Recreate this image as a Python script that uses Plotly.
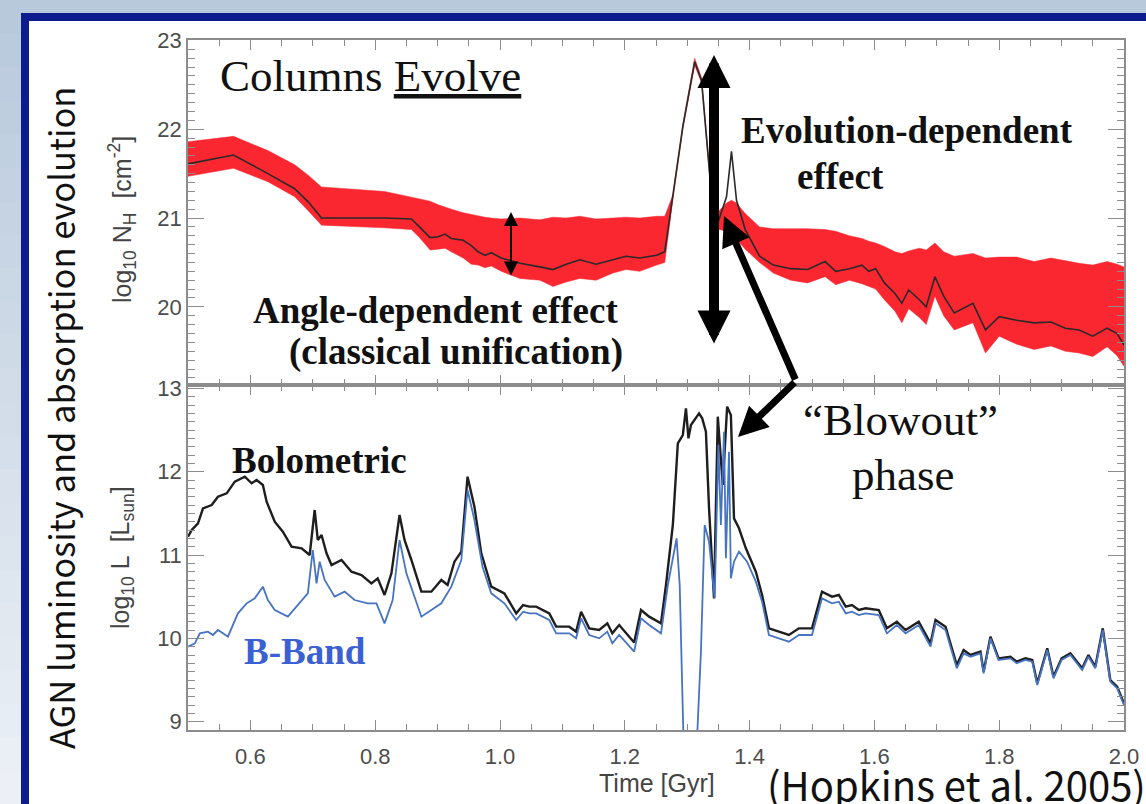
import plotly.graph_objects as go
from plotly.subplots import make_subplots

# ---------------- data ----------------
# Top panel: column density, median line and angle spread (band)
t_nh = [0.500, 0.573, 0.628, 0.671, 0.693, 0.714, 0.815, 0.858, 0.871, 0.888,
        0.901, 0.912, 0.922, 0.941, 0.954, 0.965, 0.976, 0.986, 1.002, 1.032,
        1.064, 1.085, 1.106, 1.128, 1.154, 1.181, 1.202, 1.224, 1.251, 1.264,
        1.277, 1.293, 1.312, 1.323, 1.336, 1.347, 1.363, 1.371, 1.379, 1.393,
        1.416, 1.438, 1.466, 1.493, 1.521, 1.538, 1.560, 1.580, 1.591, 1.602,
        1.616, 1.633, 1.644, 1.655, 1.672, 1.683, 1.697, 1.711, 1.728, 1.758,
        1.778, 1.800, 1.828, 1.856, 1.883, 1.906, 1.928, 1.950, 1.973, 1.989,
        2.000]
nh_med = [21.61, 21.71, 21.50, 21.33, 21.18, 21.00, 21.00, 20.99, 20.90, 20.78,
          20.79, 20.82, 20.77, 20.75, 20.69, 20.62, 20.58, 20.61, 20.55, 20.49,
          20.45, 20.42, 20.48, 20.53, 20.48, 20.53, 20.57, 20.55, 20.58, 20.62,
          21.24, 22.03, 22.76, 22.55, 21.50, 20.90, 21.24, 21.75, 21.20, 20.87,
          20.57, 20.47, 20.43, 20.42, 20.51, 20.40, 20.43, 20.47, 20.40, 20.43,
          20.27, 20.15, 20.04, 20.19, 20.08, 20.00, 20.34, 20.12, 19.93, 20.04,
          19.74, 19.89, 19.85, 19.82, 19.83, 19.76, 19.74, 19.67, 19.76, 19.70,
          19.57]
nh_hi = [21.86, 21.92, 21.76, 21.60, 21.48, 21.35, 21.30, 21.24, 21.22, 21.19,
         21.15, 21.12, 21.10, 21.06, 21.04, 21.02, 21.01, 21.00, 20.99, 21.00,
         20.98, 21.01, 21.00, 21.02, 20.99, 21.00, 21.01, 21.00, 21.02, 21.02,
         21.26, 22.06, 22.80, 22.58, 21.55, 21.05, 21.17, 21.20, 21.17, 21.05,
         20.90, 20.88, 20.88, 20.88, 20.87, 20.85, 20.80, 20.77, 20.74, 20.72,
         20.68, 20.62, 20.60, 20.63, 20.66, 20.64, 20.72, 20.62, 20.57, 20.60,
         20.55, 20.56, 20.56, 20.51, 20.55, 20.52, 20.49, 20.47, 20.51, 20.48,
         20.45]
nh_lo = [21.47, 21.56, 21.41, 21.24, 21.08, 20.92, 20.89, 20.87, 20.78, 20.64,
         20.65, 20.66, 20.62, 20.55, 20.48, 20.47, 20.44, 20.46, 20.40, 20.32,
         20.30, 20.23, 20.28, 20.32, 20.30, 20.38, 20.42, 20.40, 20.47, 20.50,
         21.20, 22.00, 22.72, 22.52, 21.45, 20.88, 20.85, 20.80, 20.76, 20.65,
         20.50, 20.38, 20.30, 20.27, 20.34, 20.25, 20.30, 20.26, 20.23, 20.20,
         20.08, 19.95, 19.82, 19.98, 19.88, 19.80, 20.12, 19.90, 19.74, 19.82,
         19.48, 19.67, 19.58, 19.52, 19.56, 19.50, 19.48, 19.44, 19.55, 19.45,
         19.33]

# Bottom panel: bolometric luminosity
t_bol = [0.500, 0.506, 0.516, 0.524, 0.538, 0.548, 0.562, 0.575, 0.591, 0.602,
         0.610, 0.620, 0.626, 0.639, 0.652, 0.666, 0.682, 0.695, 0.703, 0.708,
         0.714, 0.722, 0.730, 0.746, 0.762, 0.778, 0.794, 0.804, 0.815, 0.826,
         0.839, 0.847, 0.858, 0.874, 0.890, 0.906, 0.916, 0.927, 0.938, 0.948,
         0.959, 0.970, 0.986, 1.007, 1.026, 1.037, 1.047, 1.058, 1.079, 1.090,
         1.111, 1.122, 1.130, 1.143, 1.159, 1.172, 1.180, 1.191, 1.215, 1.226,
         1.239, 1.258, 1.266, 1.277, 1.285, 1.293, 1.298, 1.302, 1.306, 1.314,
         1.319, 1.324, 1.330, 1.335, 1.343, 1.349, 1.357, 1.364, 1.370, 1.375,
         1.383, 1.394, 1.410, 1.420, 1.431, 1.447, 1.463, 1.479, 1.500, 1.516,
         1.532, 1.543, 1.554, 1.564, 1.575, 1.586, 1.607, 1.620, 1.636, 1.650,
         1.671, 1.690, 1.698, 1.714, 1.732, 1.743, 1.754, 1.770, 1.775, 1.786,
         1.799, 1.818, 1.828, 1.842, 1.853, 1.861, 1.877, 1.887, 1.900, 1.914,
         1.933, 1.943, 1.954, 1.966, 1.978, 1.989, 2.000]
L_bol = [11.22, 11.30, 11.38, 11.56, 11.60, 11.70, 11.74, 11.88, 11.94, 11.86,
         11.90, 11.84, 11.64, 11.40, 11.28, 11.10, 11.08, 11.00, 11.54, 11.18,
         11.24, 11.02, 10.88, 10.94, 10.80, 10.76, 10.66, 10.72, 10.52, 10.78,
         11.48, 11.18, 10.94, 10.56, 10.56, 10.70, 10.64, 10.92, 11.04, 11.94,
         11.58, 11.02, 10.62, 10.54, 10.30, 10.40, 10.38, 10.38, 10.30, 10.14,
         10.14, 10.08, 10.32, 10.12, 10.10, 10.18, 10.06, 10.16, 9.95, 10.34,
         10.26, 10.18, 10.64, 11.36, 12.34, 12.44, 12.76, 12.40, 12.56, 12.64,
         12.70, 12.64, 12.48, 11.56, 10.48, 12.66, 11.84, 12.78, 12.68, 11.44,
         11.32, 11.08, 10.80, 10.52, 10.12, 10.08, 10.04, 10.12, 10.12, 10.56,
         10.50, 10.52, 10.38, 10.40, 10.34, 10.36, 10.34, 10.12, 10.20, 10.10,
         10.20, 9.94, 10.22, 10.14, 9.68, 9.86, 9.80, 9.84, 9.60, 10.02,
         9.76, 9.78, 9.72, 9.76, 9.74, 9.46, 9.88, 9.54, 9.76, 9.82,
         9.64, 9.80, 9.66, 10.12, 9.50, 9.42, 9.22]

# Bottom panel: B-band luminosity
t_bb = [0.500, 0.511, 0.519, 0.532, 0.540, 0.548, 0.556, 0.564, 0.580, 0.594,
        0.607, 0.620, 0.628, 0.639, 0.660, 0.676, 0.692, 0.700, 0.706, 0.711,
        0.719, 0.735, 0.751, 0.767, 0.788, 0.802, 0.815, 0.828, 0.839, 0.850,
        0.863, 0.874, 0.890, 0.906, 0.922, 0.938, 0.948, 0.959, 0.972, 0.986,
        1.007, 1.026, 1.037, 1.047, 1.058, 1.079, 1.090, 1.111, 1.122, 1.130,
        1.143, 1.159, 1.172, 1.180, 1.191, 1.215, 1.226, 1.239, 1.258, 1.269,
        1.283, 1.288, 1.295, 1.314, 1.322, 1.328, 1.335, 1.341, 1.344, 1.350,
        1.354, 1.359, 1.362, 1.367, 1.370, 1.375, 1.383, 1.396, 1.410, 1.420,
        1.431, 1.447, 1.463, 1.479, 1.500, 1.516, 1.532, 1.543, 1.554, 1.564,
        1.575, 1.586, 1.607, 1.620, 1.636, 1.650, 1.671, 1.690, 1.698, 1.714,
        1.732, 1.743, 1.754, 1.770, 1.775, 1.786, 1.799, 1.818, 1.828, 1.842,
        1.853, 1.861, 1.877, 1.887, 1.900, 1.914, 1.933, 1.943, 1.954, 1.966,
        1.978, 1.989, 2.000]
L_bb = [9.90, 9.94, 10.06, 10.08, 10.04, 10.10, 10.06, 10.02, 10.30, 10.42,
        10.48, 10.62, 10.46, 10.34, 10.26, 10.40, 10.54, 11.06, 10.66, 10.92,
        10.70, 10.50, 10.56, 10.46, 10.42, 10.42, 10.18, 10.46, 11.18, 10.78,
        10.50, 10.26, 10.34, 10.42, 10.62, 10.94, 11.78, 11.42, 10.86, 10.54,
        10.42, 10.22, 10.32, 10.30, 10.30, 10.22, 10.06, 10.06, 10.00, 10.24,
        10.04, 10.00, 10.08, 9.94, 10.04, 9.84, 10.24, 10.16, 10.06, 10.64,
        11.20, 10.64, 8.50, 8.50, 9.84, 11.36, 11.16, 10.64, 10.48, 12.32,
        11.36, 12.48, 10.96, 12.24, 10.72, 10.92, 11.04, 10.92, 10.68, 10.44,
        10.04, 10.00, 9.96, 10.04, 10.04, 10.48, 10.42, 10.44, 10.30, 10.32,
        10.28, 10.30, 10.28, 10.06, 10.16, 10.06, 10.16, 9.90, 10.18, 10.10,
        9.64, 9.82, 9.78, 9.82, 9.58, 10.00, 9.74, 9.76, 9.70, 9.74,
        9.72, 9.44, 9.86, 9.52, 9.74, 9.80, 9.62, 9.78, 9.64, 10.10,
        9.48, 9.40, 9.20]

x_tickvals = [0.6, 0.8, 1.0, 1.2, 1.4, 1.6, 1.8, 2.0]
x_ticktext = ["0.6", "0.8", "1.0", "1.2", "1.4", "1.6", "1.8", "2.0"]
nh_tickvals = [20, 21, 22, 23]
L_tickvals = [9, 10, 11, 12, 13]

# ---------------- layout helpers (pixel -> paper) ----------------
W, H = 1146, 804
PL, PR, PT, PB = 188, 1124, 40, 730


def fx(x):
    return (x - PL) / (PR - PL)


def fy(y):
    return (PB - y) / (PB - PT)


RED = "#fa2630"
AXC = "#8c8c8c"
TICKFONT = dict(family="Liberation Sans", size=22, color="#4d4d4d")
SERIF = "Liberation Serif"

fig = make_subplots(rows=2, cols=1, shared_xaxes=True, vertical_spacing=0)

fig.add_trace(go.Scatter(x=t_nh, y=nh_lo, mode="lines",
                         line=dict(width=0.5, color=RED), hoverinfo="skip"),
              row=1, col=1)
fig.add_trace(go.Scatter(x=t_nh, y=nh_hi, mode="lines", fill="tonexty",
                         fillcolor=RED, line=dict(width=0.5, color=RED),
                         hoverinfo="skip"), row=1, col=1)
fig.add_trace(go.Scatter(x=t_nh, y=nh_med, mode="lines",
                         line=dict(width=1.6, color="#2a2a2a")), row=1, col=1)
fig.add_trace(go.Scatter(x=t_bol, y=L_bol, mode="lines",
                         line=dict(width=2.4, color="#1e1e1e")), row=2, col=1)
fig.add_trace(go.Scatter(x=t_bb, y=L_bb, mode="lines",
                         line=dict(width=1.8, color="#4673c2")), row=2, col=1)

common = dict(showline=True, linecolor=AXC, linewidth=1.5, mirror="allticks",
              ticks="inside", tickcolor=AXC, tickwidth=1.2, showgrid=False,
              zeroline=False, tickfont=TICKFONT, automargin=False)

fig.update_xaxes(range=[0.5, 2.0], tickvals=x_tickvals, ticktext=x_ticktext,
                 ticklen=10,
                 minor=dict(dtick=0.05, tick0=0.5, ticklen=6, ticks="inside",
                            tickcolor=AXC, showgrid=False),
                 **common)
fig.update_xaxes(showticklabels=False, row=1, col=1)
fig.update_xaxes(showticklabels=True, ticklabelstandoff=6, row=2, col=1)

fig.update_yaxes(range=[19.12, 23.005], tickvals=nh_tickvals, ticklen=16,
                 minor=dict(dtick=0.1, tick0=19, ticklen=7, ticks="inside",
                            tickcolor=AXC, showgrid=False),
                 row=1, col=1, **common)
fig.update_yaxes(range=[8.90, 13.04], tickvals=L_tickvals, ticklen=16,
                 minor=dict(dtick=0.1, tick0=9, ticklen=7, ticks="inside",
                            tickcolor=AXC, showgrid=False),
                 row=2, col=1, **common)

# ---------------- slide background & frame ----------------
shapes = []
n_bands = 24
top_rgb = (184, 201, 220)
bot_rgb = (236, 240, 246)
for i in range(n_bands):
    f = i / (n_bands - 1)
    c = tuple(round(top_rgb[k] + (bot_rgb[k] - top_rgb[k]) * f) for k in range(3))
    y0 = H * i / n_bands
    y1 = H * (i + 1) / n_bands + 1
    shapes.append(dict(type="rect", xref="paper", yref="paper", layer="below",
                       x0=fx(-5), x1=fx(W + 5), y0=fy(y1), y1=fy(y0),
                       fillcolor="rgb(%d,%d,%d)" % c, line=dict(width=0)))
shapes.append(dict(type="rect", xref="paper", yref="paper", layer="below",
                   x0=fx(21), x1=fx(W + 20), y0=fy(H + 20), y1=fy(13),
                   fillcolor="#0c1c8e", line=dict(width=0)))
shapes.append(dict(type="rect", xref="paper", yref="paper", layer="below",
                   x0=fx(29), x1=fx(W + 20), y0=fy(H + 20), y1=fy(21),
                   fillcolor="white", line=dict(width=0)))

# ---------------- annotations ----------------
ann = []


def txt(text, x, y, size, family=SERIF, color="#111111", xanchor="center",
        angle=0):
    font = dict(family=family, size=size, color=color)
    ann.append(dict(text=text, x=fx(x), y=fy(y), xref="paper", yref="paper",
                    xanchor=xanchor, yanchor="middle", showarrow=False,
                    textangle=angle, font=font))


txt("Columns <u>Evolve</u>", 218, 76, 45, xanchor="left")
txt("<b>Evolution-dependent</b>", 907, 130, 37)
txt("<b>effect</b>", 840, 176, 37)
txt("<b>Angle-dependent effect</b>", 435, 310, 37)
txt("<b>(classical unification)</b>", 456, 352, 37)
txt("<b>Bolometric</b>", 230, 460, 37, xanchor="left")
txt("<b>B-Band</b>", 242, 651, 37, color="#3a60d4", xanchor="left")
txt("\u201cBlowout\u201d", 900, 420, 45)
txt("phase", 903, 475, 45)

txt("log<sub>10</sub> N<sub>H</sub>  [cm<sup>-2</sup>]", 122, 220, 25,
    family="Liberation Sans", color="#444444", angle=-90)
txt("log<sub>10</sub> L  [L<sub>sun</sub>]", 122, 558, 25,
    family="Liberation Sans", color="#444444", angle=-90)
txt("Time [Gyr]", 657, 783, 25, family="Liberation Sans", color="#444444")
txt("AGN luminosity and absorption evolution", 60, 418, 34.5,
    family="Noto Sans CJK JP", color="#111111", angle=-90)
txt("(Hopkins et al. 2005)", 765, 784, 40, family="Noto Sans CJK JP",
    color="#111111", xanchor="left")


def arrow(tip, tail, width, size, both=False):
    d = dict(text="", x=fx(tip[0]), y=fy(tip[1]), xref="paper", yref="paper",
             ax=tail[0] - tip[0], ay=tail[1] - tip[1], showarrow=True,
             arrowhead=2, arrowsize=size, arrowwidth=width, arrowcolor="black",
             standoff=0, startstandoff=0)
    if both:
        d.update(arrowside="end+start", startarrowhead=2, startarrowsize=size)
    ann.append(d)


arrow((511, 212), (511, 277), 2, 1.4, both=True)
arrow((714, 55), (714, 345), 10, 0.66, both=True)
arrow((724, 216), (796, 381), 7, 0.85)
arrow((738, 437), (796, 381), 7, 0.85)

fig.update_layout(width=W, height=H, margin=dict(l=PL, r=W - PR, t=PT, b=H - PB),
                  paper_bgcolor="#c8d5e3", plot_bgcolor="white",
                  showlegend=False, shapes=shapes, annotations=ann,
                  hovermode=False)

fig.write_html("out.html", config={"displayModeBar": False},
               post_script="document.body.style.margin='0px';"
                           "document.body.style.overflow='hidden';")
